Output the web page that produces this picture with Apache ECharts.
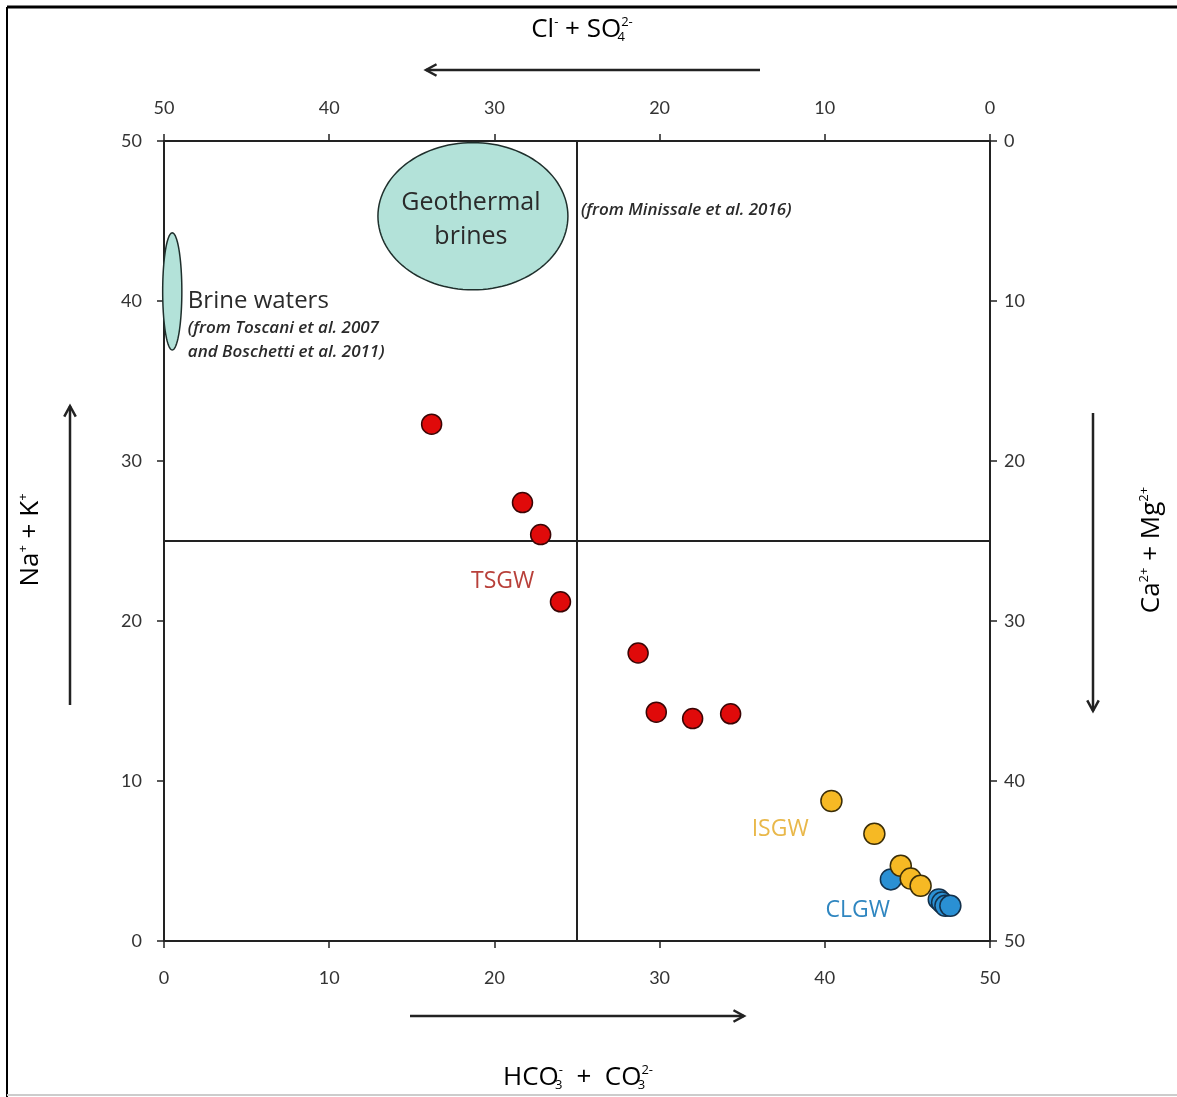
<!DOCTYPE html>
<html><head><meta charset="utf-8">
<script src="https://cdn.jsdelivr.net/npm/echarts@6/dist/echarts.min.js"></script>
<style>html,body{margin:0;padding:0;background:#fff}#c{width:1177px;height:1097px}</style>
</head><body><div id="c"></div>
<script>
// ---- data ----
const axisMin = 0, axisMax = 50, axisStep = 10;
const tsgw = [[16.2,32.3],[21.7,27.4],[22.8,25.4],[24.0,21.2],[28.7,18.0],[29.8,14.3],[32.0,13.9],[34.3,14.2]];
const isgw = [[40.4,8.75],[43.0,6.7],[44.6,4.7],[45.2,3.9],[45.8,3.45]];
const clgw = [[44.0,3.85],[46.9,2.6],[47.1,2.4],[47.3,2.2],[47.6,2.2]];
const ellipseNames = ['Geothermal brines','Brine waters'];
const ellipseCenters = [[18.7,45.3],[0.5,40.6]];
const ellipseRadii = [[5.75,4.6],[0.58,3.66]];
const dividerX = 25, dividerY = 25;
const groupLabels = ['TSGW','ISGW','CLGW'];
const groupLabelAt = [[20.5,22.5],[37.3,7.0],[42.0,1.9]];

const FONT = 'Lato, "Open Sans", sans-serif';
const FONT2 = '"Open Sans", Lato, sans-serif';
const COL = {TSGW:'#b8403a', ISGW:'#e9b84a', CLGW:'#2f86c0'};

const chart = echarts.init(document.getElementById('c'));

function ellipseRender(params, api){
  const i = params.dataIndex;
  const c = ellipseCenters[i], r = ellipseRadii[i];
  const pts = [];
  for (let k=0;k<120;k++){
    const t = k/120*Math.PI*2;
    pts.push(api.coord([c[0]+r[0]*Math.cos(t), c[1]+r[1]*Math.sin(t)]));
  }
  return {type:'polygon', shape:{points:pts}, style:{fill:'#b3e2d9', stroke:'#1f2f2c', lineWidth:1.5}};
}

function annoRender(params, api){
  const i = params.dataIndex;
  const p = api.coord(groupLabelAt[i]);
  return {type:'text', x:p[0], y:p[1], style:{text:groupLabels[i], fill:COL[groupLabels[i]], font:'23px '+FONT2, align:'center', verticalAlign:'middle'}};
}

function textRender(params, api){
  const c = api.coord(ellipseCenters[0]);
  const b = api.coord(ellipseCenters[1]);
  const r = api.size(ellipseRadii[1]);
  const g = api.size(ellipseRadii[0]);
  const dark = '#2a2a2a';
  const it = 'italic 600 17px '+FONT2;
  return {type:'group', children:[
    {type:'text', x:c[0]-2, y:c[1]-13, style:{text:'Geothermal', fill:dark, font:'25px '+FONT2, align:'center', verticalAlign:'middle'}},
    {type:'text', x:c[0]-2, y:c[1]+21, style:{text:'brines', fill:dark, font:'25px '+FONT2, align:'center', verticalAlign:'middle'}},
    {type:'text', x:c[0]+g[0]+13, y:c[1]-6, style:{text:'(from Minissale et al. 2016)', fill:dark, font:it, align:'left', verticalAlign:'middle'}},
    {type:'text', x:b[0]+r[0]+6, y:b[1]+10, style:{text:'Brine waters', fill:dark, font:'24px '+FONT2, align:'left', verticalAlign:'middle'}},
    {type:'text', x:b[0]+r[0]+6, y:b[1]+37, style:{text:'(from Toscani et al. 2007', fill:dark, font:it, align:'left', verticalAlign:'middle'}},
    {type:'text', x:b[0]+r[0]+6, y:b[1]+61, style:{text:'and Boschetti et al. 2011)', fill:dark, font:it, align:'left', verticalAlign:'middle'}}
  ]};
}

const axLine = {show:true, lineStyle:{color:'#222', width:2}};
const axTick = {show:true, length:7, lineStyle:{color:'#222', width:1.5}};
const axLab = {color:'#333', fontSize:18, fontFamily:FONT};

const rich = {
  b:{fontSize:26, fontFamily:FONT2, color:'#222', lineHeight:28},
  sp:{fontSize:13, fontFamily:FONT2, color:'#222', verticalAlign:'top', lineHeight:28},
  sb:{fontSize:13, fontFamily:FONT2, color:'#222', verticalAlign:'bottom', lineHeight:28},
  sbz:{fontSize:13, fontFamily:FONT2, color:'#222', verticalAlign:'bottom', lineHeight:28, width:0}
};
function arrow(x1,y1,x2,y2){
  const a = Math.atan2(y2-y1,x2-x1), L=12, w=0.5;
  return [
    {type:'line', shape:{x1,y1,x2,y2}, style:{stroke:'#222', lineWidth:2.5}},
    {type:'polyline', shape:{points:[[x2-L*Math.cos(a-w), y2-L*Math.sin(a-w)],[x2,y2],[x2-L*Math.cos(a+w), y2-L*Math.sin(a+w)]]}, style:{stroke:'#222', lineWidth:2.5, fill:null}}
  ];
}

chart.setOption({
  animation:false,
  backgroundColor:'#fff',
  grid:{left:164, right:187, top:141, bottom:156},
  xAxis:[
    {type:'value', min:axisMin, max:axisMax, interval:axisStep, position:'bottom', splitLine:{show:false}, axisLine:axLine, axisTick:axTick, axisLabel:Object.assign({margin:28}, axLab)},
    {type:'value', min:axisMin, max:axisMax, interval:axisStep, position:'top', inverse:true, splitLine:{show:false}, axisLine:axLine, axisTick:axTick, axisLabel:Object.assign({margin:24}, axLab)}
  ],
  yAxis:[
    {type:'value', min:axisMin, max:axisMax, interval:axisStep, position:'left', splitLine:{show:false}, axisLine:axLine, axisTick:axTick, axisLabel:Object.assign({margin:22}, axLab)},
    {type:'value', min:axisMin, max:axisMax, interval:axisStep, position:'right', inverse:true, splitLine:{show:false}, axisLine:axLine, axisTick:axTick, axisLabel:Object.assign({margin:14}, axLab)}
  ],
  graphic:[
    {type:'line', shape:{x1:7,y1:7,x2:1177,y2:7}, style:{stroke:'#000', lineWidth:3}},
    {type:'line', shape:{x1:7,y1:7,x2:7,y2:1097}, style:{stroke:'#000', lineWidth:2}},
    {type:'line', shape:{x1:7,y1:1095,x2:1177,y2:1095}, style:{stroke:'#ccc', lineWidth:2}},
    {type:'text', x:582, y:30, style:{text:'{b|Cl}{sp|-}{b| + SO}{sbz|4}{sp|2-}', rich:rich, align:'center', verticalAlign:'middle'}},
    {type:'text', x:578, y:1078, style:{text:'{b|HCO}{sbz|3}{sp|-}{b|  +  CO}{sbz|3}{sp|2-}', rich:rich, align:'center', verticalAlign:'middle'}},
    {type:'text', x:31, y:540, rotation:Math.PI/2, style:{text:'{b|Na}{sp|+}{b| + K}{sp|+}', rich:rich, align:'center', verticalAlign:'middle'}},
    {type:'text', x:1152, y:550, rotation:Math.PI/2, style:{text:'{b|Ca}{sp|2+}{b| + Mg}{sp|2+}', rich:rich, align:'center', verticalAlign:'middle'}}
  ].concat(arrow(760,70,426,70), arrow(410,1016,744,1016), arrow(70,705,70,406), arrow(1093,413,1093,711)),
  series:[
    {type:'custom', name:'regions', renderItem:ellipseRender, data:ellipseNames.map((n,i)=>({name:n, value:ellipseCenters[i]})), z:2, silent:true, clip:false},
    {type:'custom', name:'regionText', renderItem:textRender, data:[[0,0]], z:3, silent:true, clip:false},
    {type:'scatter', name:'dividers', data:[], markLine:{silent:true, symbol:'none', label:{show:false}, lineStyle:{color:'#222', width:2, type:'solid'}, data:[{xAxis:dividerX},{yAxis:dividerY}]}, z:1},
    {type:'scatter', name:'TSGW', data:tsgw, symbolSize:20, itemStyle:{color:'#e00a0a', borderColor:'#3a0505', borderWidth:1.5, opacity:1}, z:5},
    {type:'scatter', name:'CLGW', data:clgw, symbolSize:21, itemStyle:{color:'#2a90d4', borderColor:'#13304a', borderWidth:1.5, opacity:1}, z:5},
    {type:'scatter', name:'ISGW', data:isgw, symbolSize:21, itemStyle:{color:'#f6b924', borderColor:'#3a2d08', borderWidth:1.5, opacity:1}, z:6},
    {type:'custom', name:'groupLabels', renderItem:annoRender, data:groupLabels.map((n,i)=>groupLabelAt[i]), z:7, silent:true}
  ]
});
</script></body></html>
